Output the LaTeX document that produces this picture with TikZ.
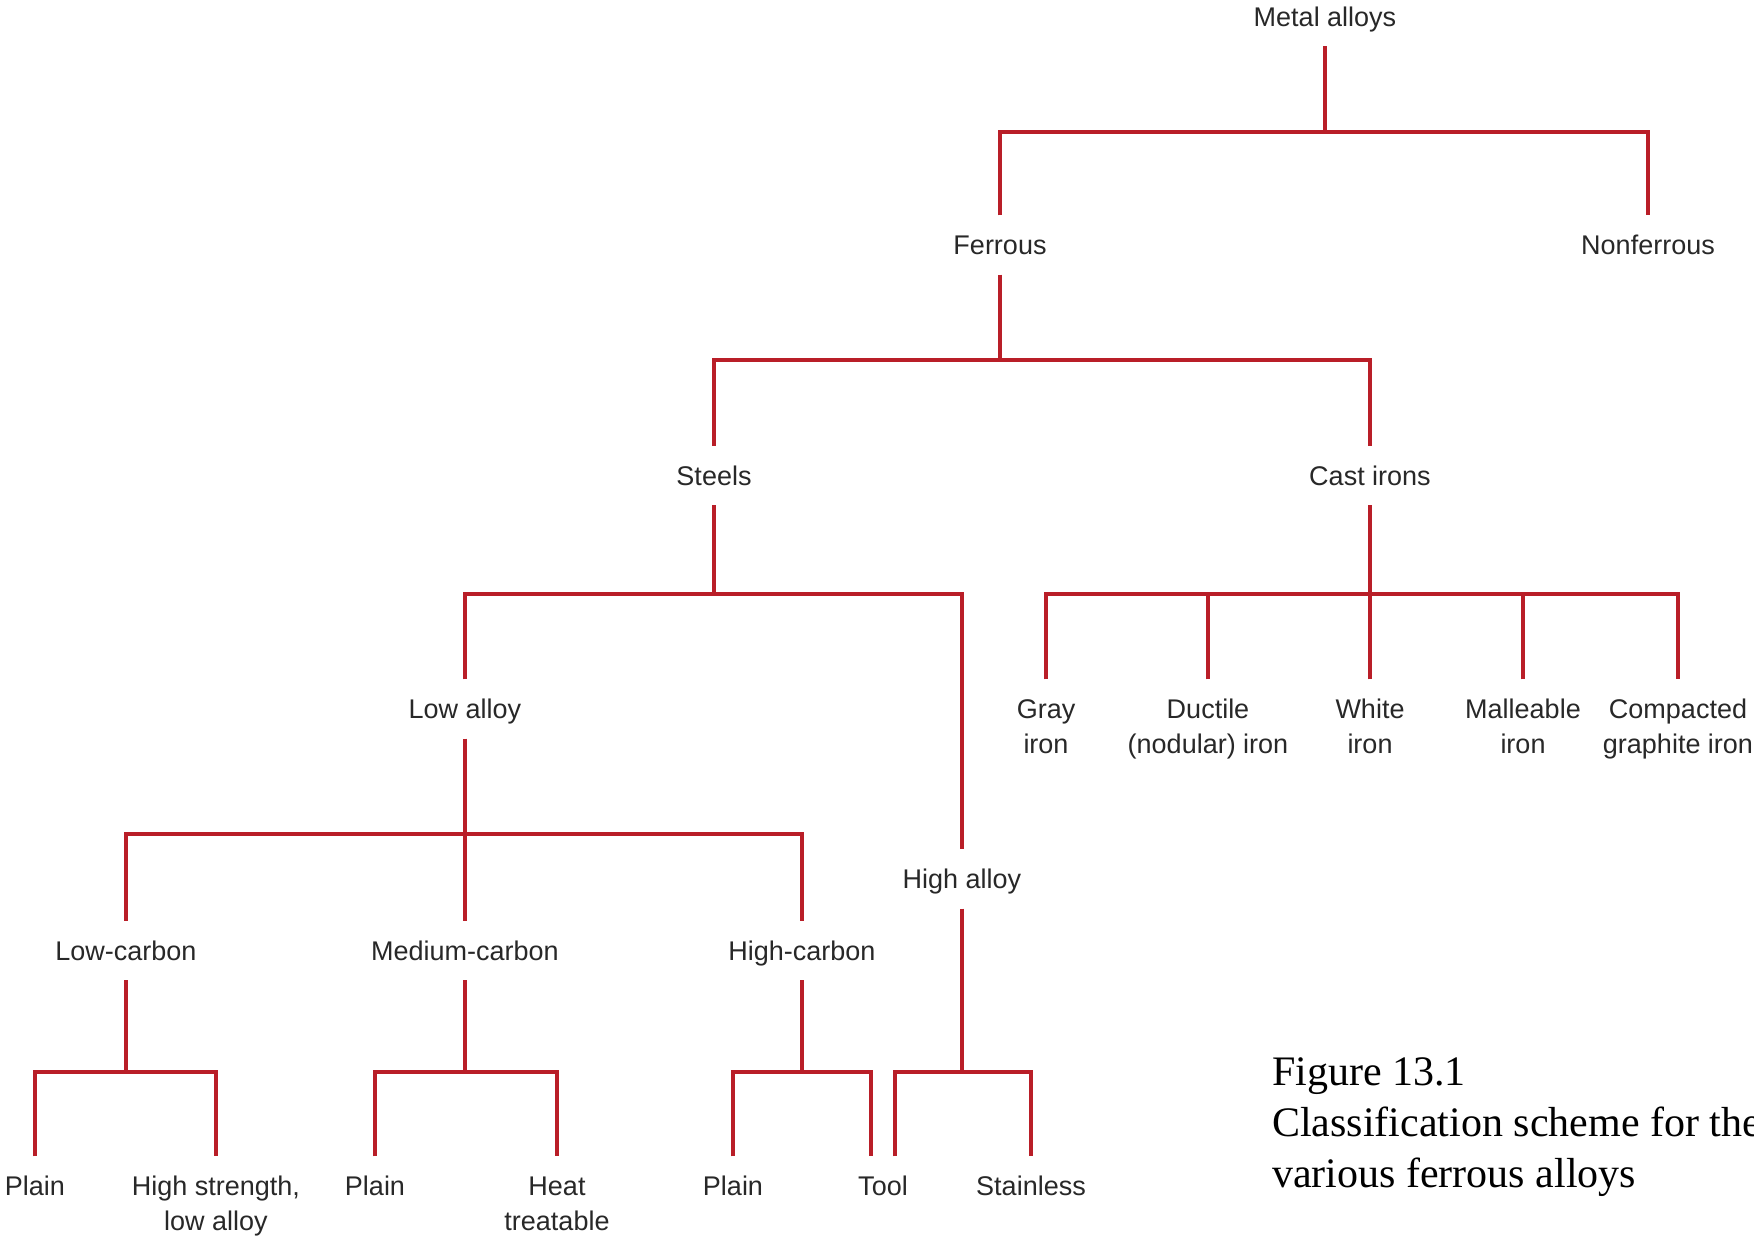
\documentclass[tikz,border=0pt]{standalone}
\usepackage{fontspec}
\setmainfont{Liberation Sans}
\newfontfamily\captionserif{Liberation Serif}
\definecolor{alloyred}{RGB}{185,30,40}
\definecolor{labelgray}{RGB}{40,40,40}
% two centred lines, hanging from the first line's baseline
\newcommand\twolines[2]{\begin{tabular}[t]{@{}c@{}}#1\\#2\end{tabular}}
\begin{document}
\begin{tikzpicture}[x=1pt,y=-1pt,
  lbl/.style={text=labelgray, font=\fontsize{27}{35}\selectfont,
    text height=19pt, text depth=0pt, inner xsep=0pt, inner ysep=20pt, anchor=center},
  branch/.style={draw=alloyred, line width=3.4pt}]
\path[fill=white, use as bounding box] (0,0) rectangle (1754,1235);

% levels of the horizontal bars
\coordinate (lvlA) at (0,132);
\coordinate (lvlB) at (0,360);
\coordinate (lvlC) at (0,594);
\coordinate (lvlD) at (0,834);
\coordinate (lvlE) at (0,1072);

% labels
\node[lbl] (metal) at (1325,16.5) {Metal alloys};
\node[lbl] (ferrous) at (1000,245) {Ferrous};
\node[lbl] (nonferrous) at (1648,245) {Nonferrous};
\node[lbl] (steels) at (714,475.5) {Steels};
\node[lbl] (castirons) at (1370,475.5) {Cast irons};
\node[lbl] (gray) at (1046,709) {\twolines{Gray}{iron}};
\node[lbl] (ductile) at (1208,709) {\twolines{Ductile}{(nodular) iron}};
\node[lbl] (white) at (1370,709) {\twolines{White}{iron}};
\node[lbl] (malleable) at (1523,709) {\twolines{Malleable}{iron}};
\node[lbl] (compacted) at (1678,709) {\twolines{Compacted}{graphite iron}};
\node[lbl] (lowalloy) at (465,709) {Low alloy};
\node[lbl] (highalloy) at (962,879) {High alloy};
\node[lbl] (lowc) at (126,950.5) {Low-carbon};
\node[lbl] (medc) at (465,950.5) {Medium-carbon};
\node[lbl] (highc) at (802,950.5) {High-carbon};
\node[lbl] (plainA) at (35,1186) {Plain};
\node[lbl] (hsla) at (216,1186) {\twolines{High strength,}{low alloy}};
\node[lbl] (plainB) at (375,1186) {Plain};
\node[lbl] (heat) at (557,1186) {\twolines{Heat}{treatable}};
\node[lbl] (plainC) at (733,1186) {Plain};
\node[lbl] (tool) at (883,1186) {Tool};
\node[lbl] (stainless) at (1031,1186) {Stainless};

% Tool is reached from two parents, one leg on each side
\coordinate (toolL) at ([xshift=-12pt]tool.north);
\coordinate (toolR) at ([xshift=12pt]tool.north);

% tree connectors
\draw[branch] (metal.south) -- (metal.south |- lvlA);
\draw[branch] (ferrous.north) |- (nonferrous.north |- lvlA) -- (nonferrous.north);

\draw[branch] (ferrous.south) -- (ferrous.south |- lvlB);
\draw[branch] (steels.north) |- (castirons.north |- lvlB) -- (castirons.north);

\draw[branch] (steels.south) -- (steels.south |- lvlC);
\draw[branch] (lowalloy.north) |- (highalloy.north |- lvlC) -- (highalloy.north);

\draw[branch] (castirons.south) -- (castirons.south |- lvlC);
\draw[branch] (gray.north) |- (compacted.north |- lvlC) -- (compacted.north);
\foreach \n in {ductile,white,malleable}
  \draw[branch] (\n.north) -- (\n.north |- lvlC);

\draw[branch] (lowalloy.south) -- (lowalloy.south |- lvlD);
\draw[branch] (lowc.north) |- (highc.north |- lvlD) -- (highc.north);
\draw[branch] (medc.north) -- (medc.north |- lvlD);

\draw[branch] (lowc.south) -- (lowc.south |- lvlE);
\draw[branch] (plainA.north) |- (hsla.north |- lvlE) -- (hsla.north);
\draw[branch] (medc.south) -- (medc.south |- lvlE);
\draw[branch] (plainB.north) |- (heat.north |- lvlE) -- (heat.north);
\draw[branch] (highc.south) -- (highc.south |- lvlE);
\draw[branch] (plainC.north) |- (toolL |- lvlE) -- (toolL);
\draw[branch] (highalloy.south) -- (highalloy.south |- lvlE);
\draw[branch] (toolR) |- (stainless.north |- lvlE) -- (stainless.north);

% caption
\node[anchor=base west, align=left, inner sep=0pt,
  font=\captionserif\fontsize{42}{51}\selectfont] (caption) at (1272,1187)
  {Figure 13.1\\Classification scheme for the\\various ferrous alloys};
\end{tikzpicture}
\end{document}
